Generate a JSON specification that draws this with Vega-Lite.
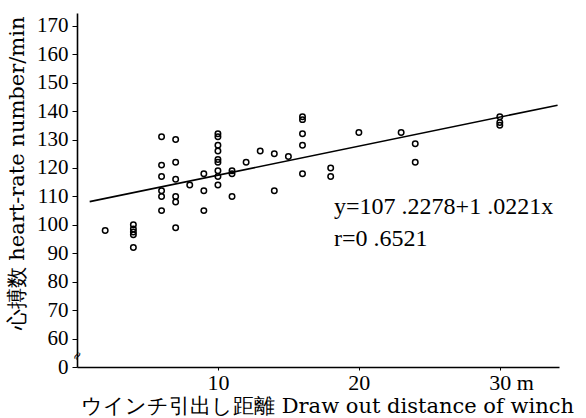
{
  "$schema": "https://vega.github.io/schema/vega-lite/v6.json",
  "width": 482,
  "height": 354,
  "autosize": "none",
  "padding": {"left": 77, "top": 13, "right": 27, "bottom": 51},
  "background": "white",
  "config": {"view": {"stroke": null}, "axis": {"labelOverlap": false}},
  "datasets": {
    "points": [
      {"dist": 2, "hr": 98},
      {"dist": 4, "hr": 100}, {"dist": 4, "hr": 98.5}, {"dist": 4, "hr": 97.5}, {"dist": 4, "hr": 96.5}, {"dist": 4, "hr": 92},
      {"dist": 6, "hr": 131}, {"dist": 6, "hr": 121}, {"dist": 6, "hr": 117}, {"dist": 6, "hr": 112}, {"dist": 6, "hr": 110}, {"dist": 6, "hr": 105},
      {"dist": 7, "hr": 130}, {"dist": 7, "hr": 122}, {"dist": 7, "hr": 116}, {"dist": 7, "hr": 110}, {"dist": 7, "hr": 108}, {"dist": 7, "hr": 99},
      {"dist": 8, "hr": 114},
      {"dist": 9, "hr": 118}, {"dist": 9, "hr": 112}, {"dist": 9, "hr": 105},
      {"dist": 10, "hr": 132}, {"dist": 10, "hr": 131}, {"dist": 10, "hr": 128}, {"dist": 10, "hr": 126}, {"dist": 10, "hr": 123}, {"dist": 10, "hr": 122}, {"dist": 10, "hr": 119}, {"dist": 10, "hr": 117}, {"dist": 10, "hr": 114},
      {"dist": 11, "hr": 119}, {"dist": 11, "hr": 118}, {"dist": 11, "hr": 110},
      {"dist": 12, "hr": 122},
      {"dist": 13, "hr": 126},
      {"dist": 14, "hr": 125}, {"dist": 14, "hr": 112},
      {"dist": 15, "hr": 124},
      {"dist": 16, "hr": 138}, {"dist": 16, "hr": 137}, {"dist": 16, "hr": 132}, {"dist": 16, "hr": 128}, {"dist": 16, "hr": 118},
      {"dist": 18, "hr": 120}, {"dist": 18, "hr": 117},
      {"dist": 20, "hr": 132.5},
      {"dist": 23, "hr": 132.5},
      {"dist": 24, "hr": 128.5}, {"dist": 24, "hr": 122},
      {"dist": 30, "hr": 138}, {"dist": 30, "hr": 136}, {"dist": 30, "hr": 135}
    ],
    "fit": [
      {"dist": 0.9, "hr": 108.15},
      {"dist": 34.1, "hr": 142.08}
    ],
    "notes": [
      {"dist": 18.24, "hr": 103.7, "label": "y=107 .2278+1 .0221x"},
      {"dist": 18.24, "hr": 92.5, "label": "r=0 .6521"}
    ],
    "brk": [
      {"dist": 0, "hr": 54, "label": "≈"}
    ]
  },
  "encoding": {
    "x": {
      "field": "dist", "type": "quantitative",
      "scale": {"domain": [0, 34.2], "nice": false, "zero": false},
      "axis": {
        "values": [10, 20, 30],
        "title": "ウインチ引出し距離  Draw out distance of winch",
        "titleFont": "DejaVu Serif", "titleFontSize": 21, "titleFontWeight": "normal", "titleColor": "black",
        "titleX": 250, "titleY": 39, "titleBaseline": "middle", "titleAlign": "center", "titleAnchor": null,
        "labelFont": "Liberation Serif", "labelFontSize": 22, "labelColor": "black",
        "labelExpr": "datum.value == 30 ? '30 m' : datum.label",
        "labelAlign": {"condition": {"test": "datum.value == 30", "value": "left"}, "value": "center"},
        "labelOffset": {"condition": {"test": "datum.value == 30", "value": -11}, "value": 0},
        "labelPadding": 2,
        "labelOverlap": false,
        "tickSize": 3, "tickColor": "black", "domainColor": "black", "domainWidth": 1.6,
        "grid": false
      }
    },
    "y": {
      "field": "hr", "type": "quantitative",
      "scale": {"domain": [50, 174.5], "nice": false, "zero": false},
      "axis": {
        "values": [50, 60, 70, 80, 90, 100, 110, 120, 130, 140, 150, 160, 170],
        "labelExpr": "datum.value == 50 ? '0' : datum.label",
        "title": "心搏数 heart-rate number/min",
        "titleFont": "DejaVu Serif", "titleFontSize": 21, "titleFontWeight": "normal", "titleColor": "black",
        "titleAngle": 270, "titleX": -60, "titleY": 160, "titleBaseline": "middle", "titleAlign": "center", "titleAnchor": null,
        "labelFont": "Liberation Serif", "labelFontSize": 21, "labelColor": "black",
        "labelPadding": 4,
        "labelOverlap": false,
        "labelSeparation": 0,
        "tickSize": 5, "tickColor": "black", "domainColor": "black", "domainWidth": 1.6,
        "grid": false
      }
    }
  },
  "layer": [
    {
      "data": {"name": "points"},
      "mark": {"type": "point", "shape": "circle", "filled": false, "size": 30, "strokeWidth": 1.5, "color": "black", "opacity": 1}
    },
    {
      "data": {"name": "fit"},
      "mark": {"type": "line", "color": "black", "strokeWidth": 1.6}
    },
    {
      "data": {"name": "notes"},
      "mark": {"type": "text", "align": "left", "baseline": "alphabetic", "font": "Liberation Serif", "fontSize": 24, "color": "black"},
      "encoding": {"text": {"field": "label"}}
    },
    {
      "data": {"name": "brk"},
      "mark": {"type": "text", "align": "center", "baseline": "middle", "font": "DejaVu Sans", "fontSize": 12, "angle": 300, "color": "black"},
      "encoding": {"text": {"field": "label"}}
    }
  ]
}
